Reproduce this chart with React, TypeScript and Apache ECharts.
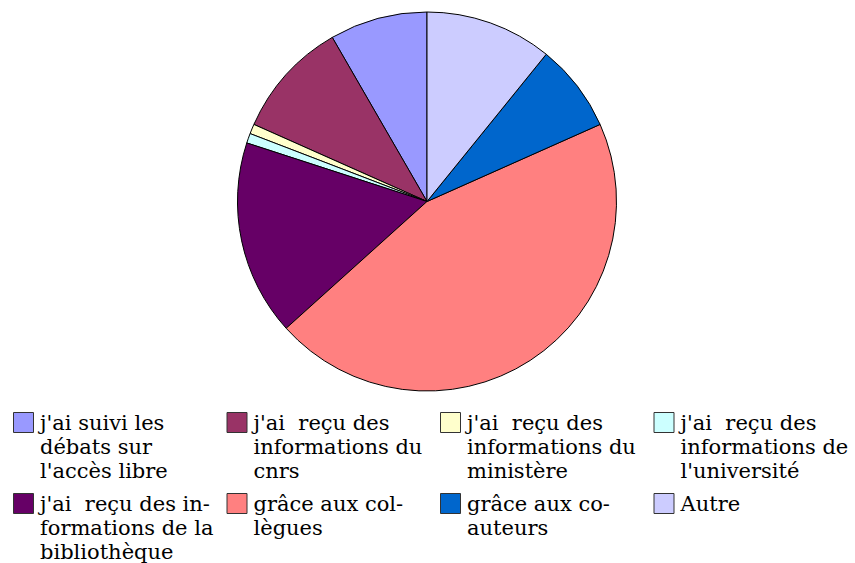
import React, { useEffect, useRef } from "react";
import * as echarts from "echarts";

const categories = [
  "j'ai suivi les débats sur l'accès libre",
  "j'ai  reçu des informations du cnrs",
  "j'ai  reçu des informations du ministère",
  "j'ai  reçu des informations de l'université",
  "j'ai  reçu des informations de la bibliothèque",
  "grâce aux collègues",
  "grâce aux co-auteurs",
  "Autre",
];
const values = [10, 12, 1, 1, 20, 54, 9, 13];
const colors = ["#9999FF", "#993366", "#FFFFCC", "#CCFFFF", "#660066", "#FF8080", "#0066CC", "#CCCCFF"];
const legendLines = [
  ["j'ai suivi les", "débats sur", "l'accès libre"],
  ["j'ai  reçu des", "informations du", "cnrs"],
  ["j'ai  reçu des", "informations du", "ministère"],
  ["j'ai  reçu des", "informations de", "l'université"],
  ["j'ai  reçu des in-", "formations de la", "bibliothèque"],
  ["grâce aux col-", "lègues"],
  ["grâce aux co-", "auteurs"],
  ["Autre"],
];

const FONT = "DejaVu Serif";

export default function App() {
  const ref = useRef<HTMLDivElement>(null);
  useEffect(() => {
    if (!ref.current) return;
    const chart = echarts.init(ref.current, undefined, { renderer: "svg" });
    const colX = [13, 226.5, 440, 653.5];
    const rowY = [412, 493];
    const legendEls: any[] = [];
    categories.forEach((c, i) => {
      const x = colX[i % 4];
      const y = rowY[Math.floor(i / 4)];
      legendEls.push({
        type: "rect",
        shape: { x: x + 0.5, y: y + 0.5, width: 20, height: 20 },
        style: { fill: colors[i], stroke: "#333", lineWidth: 1 },
      });
      legendEls.push({
        type: "text",
        x: x + 27,
        y: y - 1,
        style: {
          text: legendLines[i].join("\n"),
          font: `21px "${FONT}"`,
          fill: "#000",
          lineHeight: 24,
          verticalAlign: "top",
          align: "left",
        },
      });
    });
    chart.setOption({
      animation: false,
      backgroundColor: "#fff",
      color: colors,
      series: [
        {
          type: "pie",
          center: [427, 201.5],
          radius: 189.5,
          startAngle: 90,
          clockwise: false,
          label: { show: false },
          labelLine: { show: false },
          itemStyle: { borderColor: "#000", borderWidth: 1 },
          emphasis: { disabled: true },
          data: categories.map((c, i) => ({ name: c, value: values[i] })),
        },
      ],
      graphic: legendEls,
    });
    return () => chart.dispose();
  }, []);
  return (
    <div
      ref={ref}
      style={{ position: "fixed", left: 0, top: 0, width: 855, height: 563 }}
    />
  );
}
